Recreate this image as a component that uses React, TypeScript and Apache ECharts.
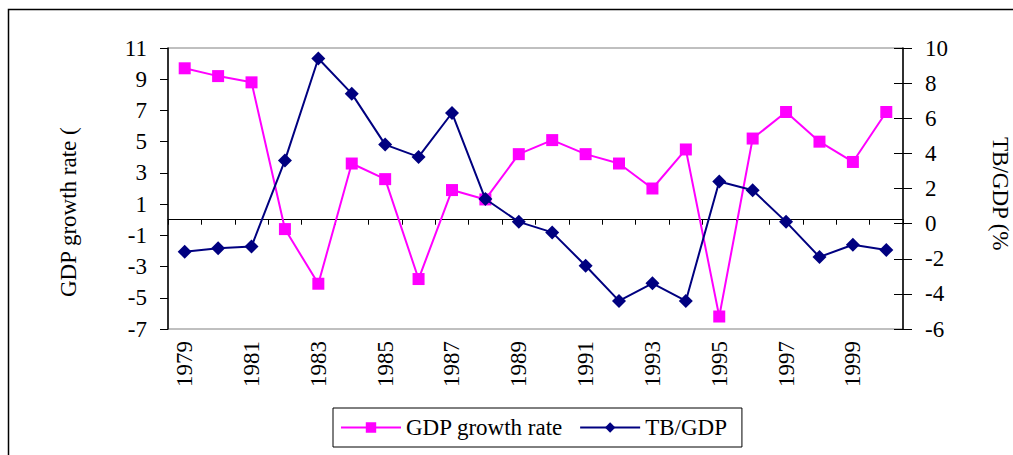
import React, { useEffect, useRef } from "react";
import * as echarts from "echarts";

// Years on the category axis
const years: string[] = [
  "1979", "1980", "1981", "1982", "1983", "1984", "1985", "1986", "1987", "1988", "1989",
  "1990", "1991", "1992", "1993", "1994", "1995", "1996", "1997", "1998", "1999", "2000",
];

// GDP growth rate (%), left axis
const gdpGrowth: number[] = [
  9.7, 9.2, 8.8, -0.6, -4.1, 3.6, 2.6, -3.8, 1.9, 1.3, 4.2,
  5.1, 4.2, 3.6, 2.0, 4.5, -6.2, 5.2, 6.9, 5.0, 3.7, 6.9,
];

// Trade balance as share of GDP (%), right axis
const tbGdp: number[] = [
  -1.6, -1.4, -1.3, 3.6, 9.4, 7.4, 4.5, 3.8, 6.3, 1.4, 0.1,
  -0.5, -2.4, -4.4, -3.4, -4.4, 2.4, 1.9, 0.1, -1.9, -1.2, -1.5,
];

const leftAxisRange = { min: -7, max: 11, step: 2 };
const rightAxisRange = { min: -6, max: 10, step: 2 };

const FONT = "'Liberation Serif', 'Times New Roman', serif";
const PINK = "#FF00FF";
const NAVY = "#000080";

export default function App() {
  const ref = useRef<HTMLDivElement>(null);

  useEffect(() => {
    if (!ref.current) return;
    const chart = echarts.init(ref.current, undefined, { renderer: "svg" });

    const tickLabel = { fontFamily: FONT, fontSize: 23, color: "#000" };

    chart.setOption({
      animation: false,
      backgroundColor: "#fff",
      grid: {
        left: 168,
        right: 110,
        top: 48,
        bottom: 126,
        show: true,
        borderColor: "#808080",
        borderWidth: 1,
        backgroundColor: "transparent",
      },
      legend: {
        left: 333,
        top: 408,
        orient: "horizontal",
        padding: [8, 15, 8, 7],
        itemGap: 16,
        itemWidth: 60,
        itemHeight: 13,
        borderColor: "#000",
        borderWidth: 1,
        textStyle: { fontFamily: FONT, fontSize: 23, color: "#000", padding: [0, 0, 0, 0] },
        data: ["GDP growth rate", "TB/GDP"],
      },
      xAxis: [
        {
          type: "category",
          data: years,
          position: "bottom",
          boundaryGap: true,
          axisLine: { show: false, onZero: false },
          axisTick: { show: false },
          axisLabel: { ...tickLabel, rotate: 90, interval: 1, margin: 12 },
          splitLine: { show: false },
        },
        {
          type: "category",
          data: years,
          position: "bottom",
          boundaryGap: true,
          axisLine: { show: true, onZero: true, onZeroAxisIndex: 0, lineStyle: { color: "#000", width: 1 } },
          axisTick: { show: true, inside: false, length: 5, interval: 0, lineStyle: { color: "#000", width: 1 } },
          axisLabel: { show: false },
          splitLine: { show: false },
        },
      ],
      yAxis: [
        {
          type: "value",
          position: "left",
          min: leftAxisRange.min,
          max: leftAxisRange.max,
          interval: leftAxisRange.step,
          axisLine: { show: true, onZero: false, lineStyle: { color: "#000", width: 1.5 } },
          axisTick: { show: true, inside: false, length: 8, lineStyle: { color: "#000", width: 1 } },
          axisLabel: { ...tickLabel, margin: 21 },
          splitLine: { show: false },
        },
        {
          type: "value",
          position: "right",
          min: rightAxisRange.min,
          max: rightAxisRange.max,
          interval: rightAxisRange.step,
          axisLine: { show: true, onZero: false, lineStyle: { color: "#000", width: 1.5 } },
          axisTick: { show: true, inside: false, length: 9, lineStyle: { color: "#000", width: 1 } },
          axisLabel: { ...tickLabel, margin: 22 },
          splitLine: { show: false },
        },
        {
          // inner half of the crossing tick marks on the right axis
          type: "value",
          position: "right",
          min: rightAxisRange.min,
          max: rightAxisRange.max,
          interval: rightAxisRange.step,
          axisLine: { show: false, onZero: false },
          axisTick: { show: true, inside: true, length: 9, lineStyle: { color: "#000", width: 1 } },
          axisLabel: { show: false },
          splitLine: { show: false },
        },
      ],
      series: [
        {
          name: "GDP growth rate",
          type: "line",
          xAxisIndex: 0,
          yAxisIndex: 0,
          data: gdpGrowth,
          symbol: "rect",
          symbolSize: 12,
          itemStyle: { color: PINK },
          lineStyle: { color: PINK, width: 2 },
          z: 3,
        },
        {
          name: "TB/GDP",
          type: "line",
          xAxisIndex: 0,
          yAxisIndex: 1,
          data: tbGdp,
          symbol: "diamond",
          symbolSize: 14,
          itemStyle: { color: NAVY },
          lineStyle: { color: NAVY, width: 2 },
          z: 4,
        },
      ],
      graphic: [
        {
          type: "polyline",
          silent: true,
          shape: { points: [[8.5, 455], [8.5, 9.5], [1013, 9.5]] },
          style: { stroke: "#000", lineWidth: 1.5, fill: "none" },
        },
        {
          type: "text",
          x: 68,
          y: 297,
          rotation: Math.PI / 2,
          style: {
            text: "GDP growth rate (",
            fontFamily: FONT,
            fontSize: 23,
            fill: "#000",
            align: "left",
            verticalAlign: "middle",
          },
        },
        {
          type: "text",
          x: 1000,
          y: 137,
          rotation: -Math.PI / 2,
          style: {
            text: "TB/GDP (%",
            fontFamily: FONT,
            fontSize: 23,
            fill: "#000",
            align: "left",
            verticalAlign: "middle",
          },
        },
      ],
    });

    return () => chart.dispose();
  }, []);

  return (
    <div
      ref={ref}
      style={{ position: "fixed", left: 0, top: 0, width: 1013, height: 455, background: "#fff" }}
    />
  );
}
